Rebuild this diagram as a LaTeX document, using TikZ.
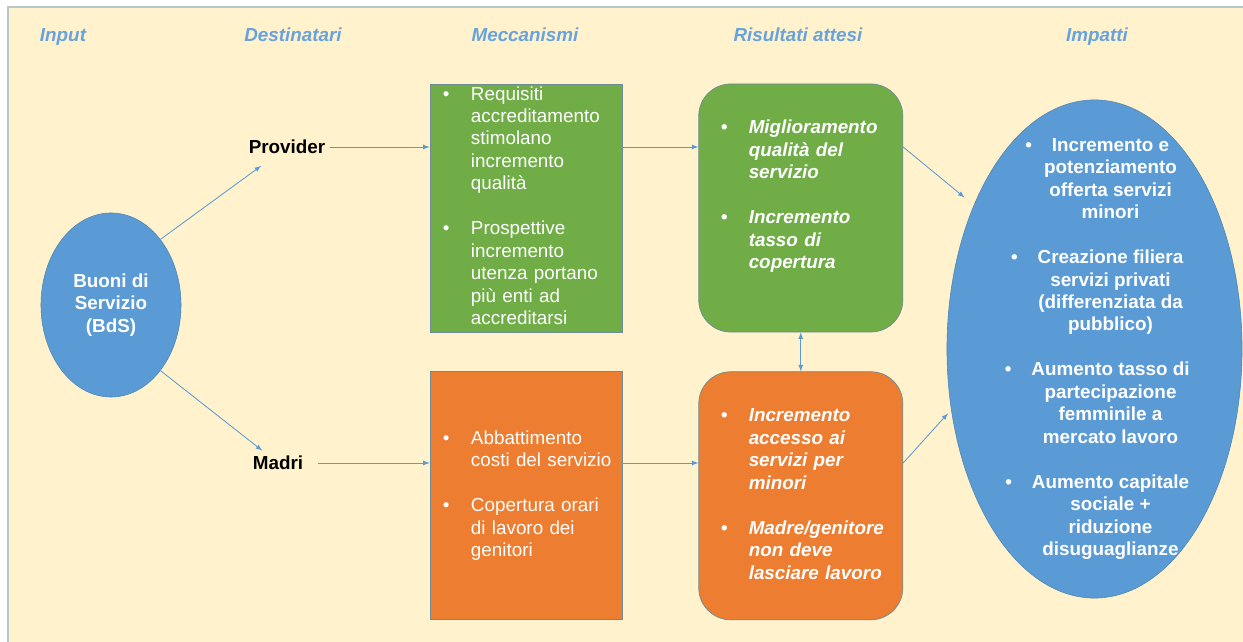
\documentclass[tikz,border=0pt]{standalone}
\usepackage{fontspec}
\setmainfont{Liberation Sans}
\usetikzlibrary{calc}
\usetikzlibrary{positioning}
\usetikzlibrary{shapes.geometric}

\definecolor{panelfill}{RGB}{255,242,204}
\definecolor{panelline}{RGB}{183,200,202}
\definecolor{bdsblue}{RGB}{91,155,213}
\definecolor{headblue}{RGB}{104,163,220}
\definecolor{mechgreen}{RGB}{112,173,71}
\definecolor{mechorange}{RGB}{237,125,49}
\definecolor{edgegray}{RGB}{110,140,150}

\newcommand{\txt}{\fontsize{13.4}{16}\selectfont}
\newcommand{\bitems}[1]{\noindent\begin{tabular}{@{}p{0.7cm}@{}l@{}}#1\end{tabular}}

\begin{document}
\begin{tikzpicture}[x=0.025cm, y=-0.025cm,
	head/.style={font=\txt\bfseries\itshape, text=headblue, anchor=base},
	dest/.style={font=\txt\bfseries},
	mech/.style={draw=edgegray, line width=0.5pt, minimum height=6.2cm, text width=4.15cm, inner xsep=0.325cm, inner ysep=0pt, align=left, font=\txt, text=white},
	res/.style={mech, rounded corners=0.8cm, text width=4.0cm, inner xsep=0.55cm, font=\txt\bfseries\itshape},
	arr/.style={draw=bdsblue, line width=0.6pt, -latex}]
		\useasboundingbox (0,0) rectangle (1243,642);
		\fill[panelfill] (8,7) rectangle (1243,642);
		\draw[panelline, line width=1.2pt] (8,642) -- (8,7) -- (1243,7);
		% column titles
		\node[head] (hin) at (63,42) {Input};
		\node[head] (hdest) at (293,42) {Destinatari};
		\node[head] (hmech) at (525,42) {Meccanismi};
		\node[head] (hres) at (798,42) {Risultati attesi};
		\node[head] (himp) at (1097,42) {Impatti};
		% input and target groups
		\node[ellipse, fill=bdsblue, draw=bdsblue!85!black, line width=0.4pt, minimum width=3.5cm, minimum height=4.6cm, inner sep=0, align=center, font=\txt\bfseries, text=white] (bds) at (111,305) {Buoni di\\Servizio\\(BdS)};
		\node[dest] (prov) at (287,147) {Provider};
		\node[dest] (madri) at (278,463) {Madri};
		% mechanisms and expected results
		\node[mech, fill=mechgreen] (mech1) at (526,208) {\bitems{\textbullet & Requisiti\\ & accreditamento\\ & stimolano\\ & incremento\\ & qualità\\[16pt] \textbullet & Prospettive\\ & incremento\\ & utenza portano\\ & più enti ad\\ & accreditarsi}};
		\node[mech, fill=mechorange, below=0.975cm of mech1] (mech2) {\bitems{\textbullet & Abbattimento\\ & costi del servizio\\[16pt] \textbullet & Copertura orari\\ & di lavoro dei\\ & genitori}};
		\node[res, fill=mechgreen, right=1.9cm of mech1] (res1) {\bitems{\textbullet & Miglioramento\\ & qualità del\\ & servizio\\[16pt] \textbullet & Incremento\\ & tasso di\\ & copertura\\[16pt]}};
		\node[res, fill=mechorange, below=0.975cm of res1] (res2) {\bitems{\textbullet & Incremento\\ & accesso ai\\ & servizi per\\ & minori\\[16pt] \textbullet & Madre/genitore\\ & non deve\\ & lasciare lavoro}};
		% impacts
		\node[ellipse, fill=bdsblue, draw=bdsblue!85!black, line width=0.4pt, minimum width=7.375cm, minimum height=12.45cm, inner sep=0] (impact) at (1094.5,349) {};
		\node[font=\txt\bfseries, text=white] (imptext) at ([xshift=0.4cm]impact.center) {\begin{tabular}{@{}c@{}}
			\llap{\textbullet\hspace{0.5cm}}Incremento e\\ potenziamento\\ offerta servizi\\ minori\\[16pt]
			\llap{\textbullet\hspace{0.5cm}}Creazione filiera\\ servizi privati\\ (differenziata da\\ pubblico)\\[16pt]
			\llap{\textbullet\hspace{0.5cm}}Aumento tasso di\\ partecipazione\\ femminile a\\ mercato lavoro\\[16pt]
			\llap{\textbullet\hspace{0.5cm}}Aumento capitale\\ sociale +\\ riduzione\\ disuguaglianze
		\end{tabular}};
		% connectors
		\draw[arr, shorten >=0.8cm] (bds.53) -- (prov.center);
		\draw[arr, shorten >=0.5cm] (bds.-53) -- (madri.center);
		\draw[arr] (prov.east) -- (prov.east -| mech1.west);
		\draw[arr, shorten <=0.25cm] (madri.east) -- (madri.east -| mech2.west);
		\draw[arr] (mech1.east |- prov.center) -- (res1.west |- prov.center);
		\draw[arr] (mech2.east |- madri.center) -- (res2.west |- madri.center);
		\draw[arr, latex-latex] (res1) -- (res2);
		\draw[arr, shorten >=0.3cm] (res1.east |- prov.center) -- (impact.130);
		\draw[arr, shorten >=0.12cm] (res2.east |- madri.center) -- (impact.-157);
\end{tikzpicture}
\end{document}
